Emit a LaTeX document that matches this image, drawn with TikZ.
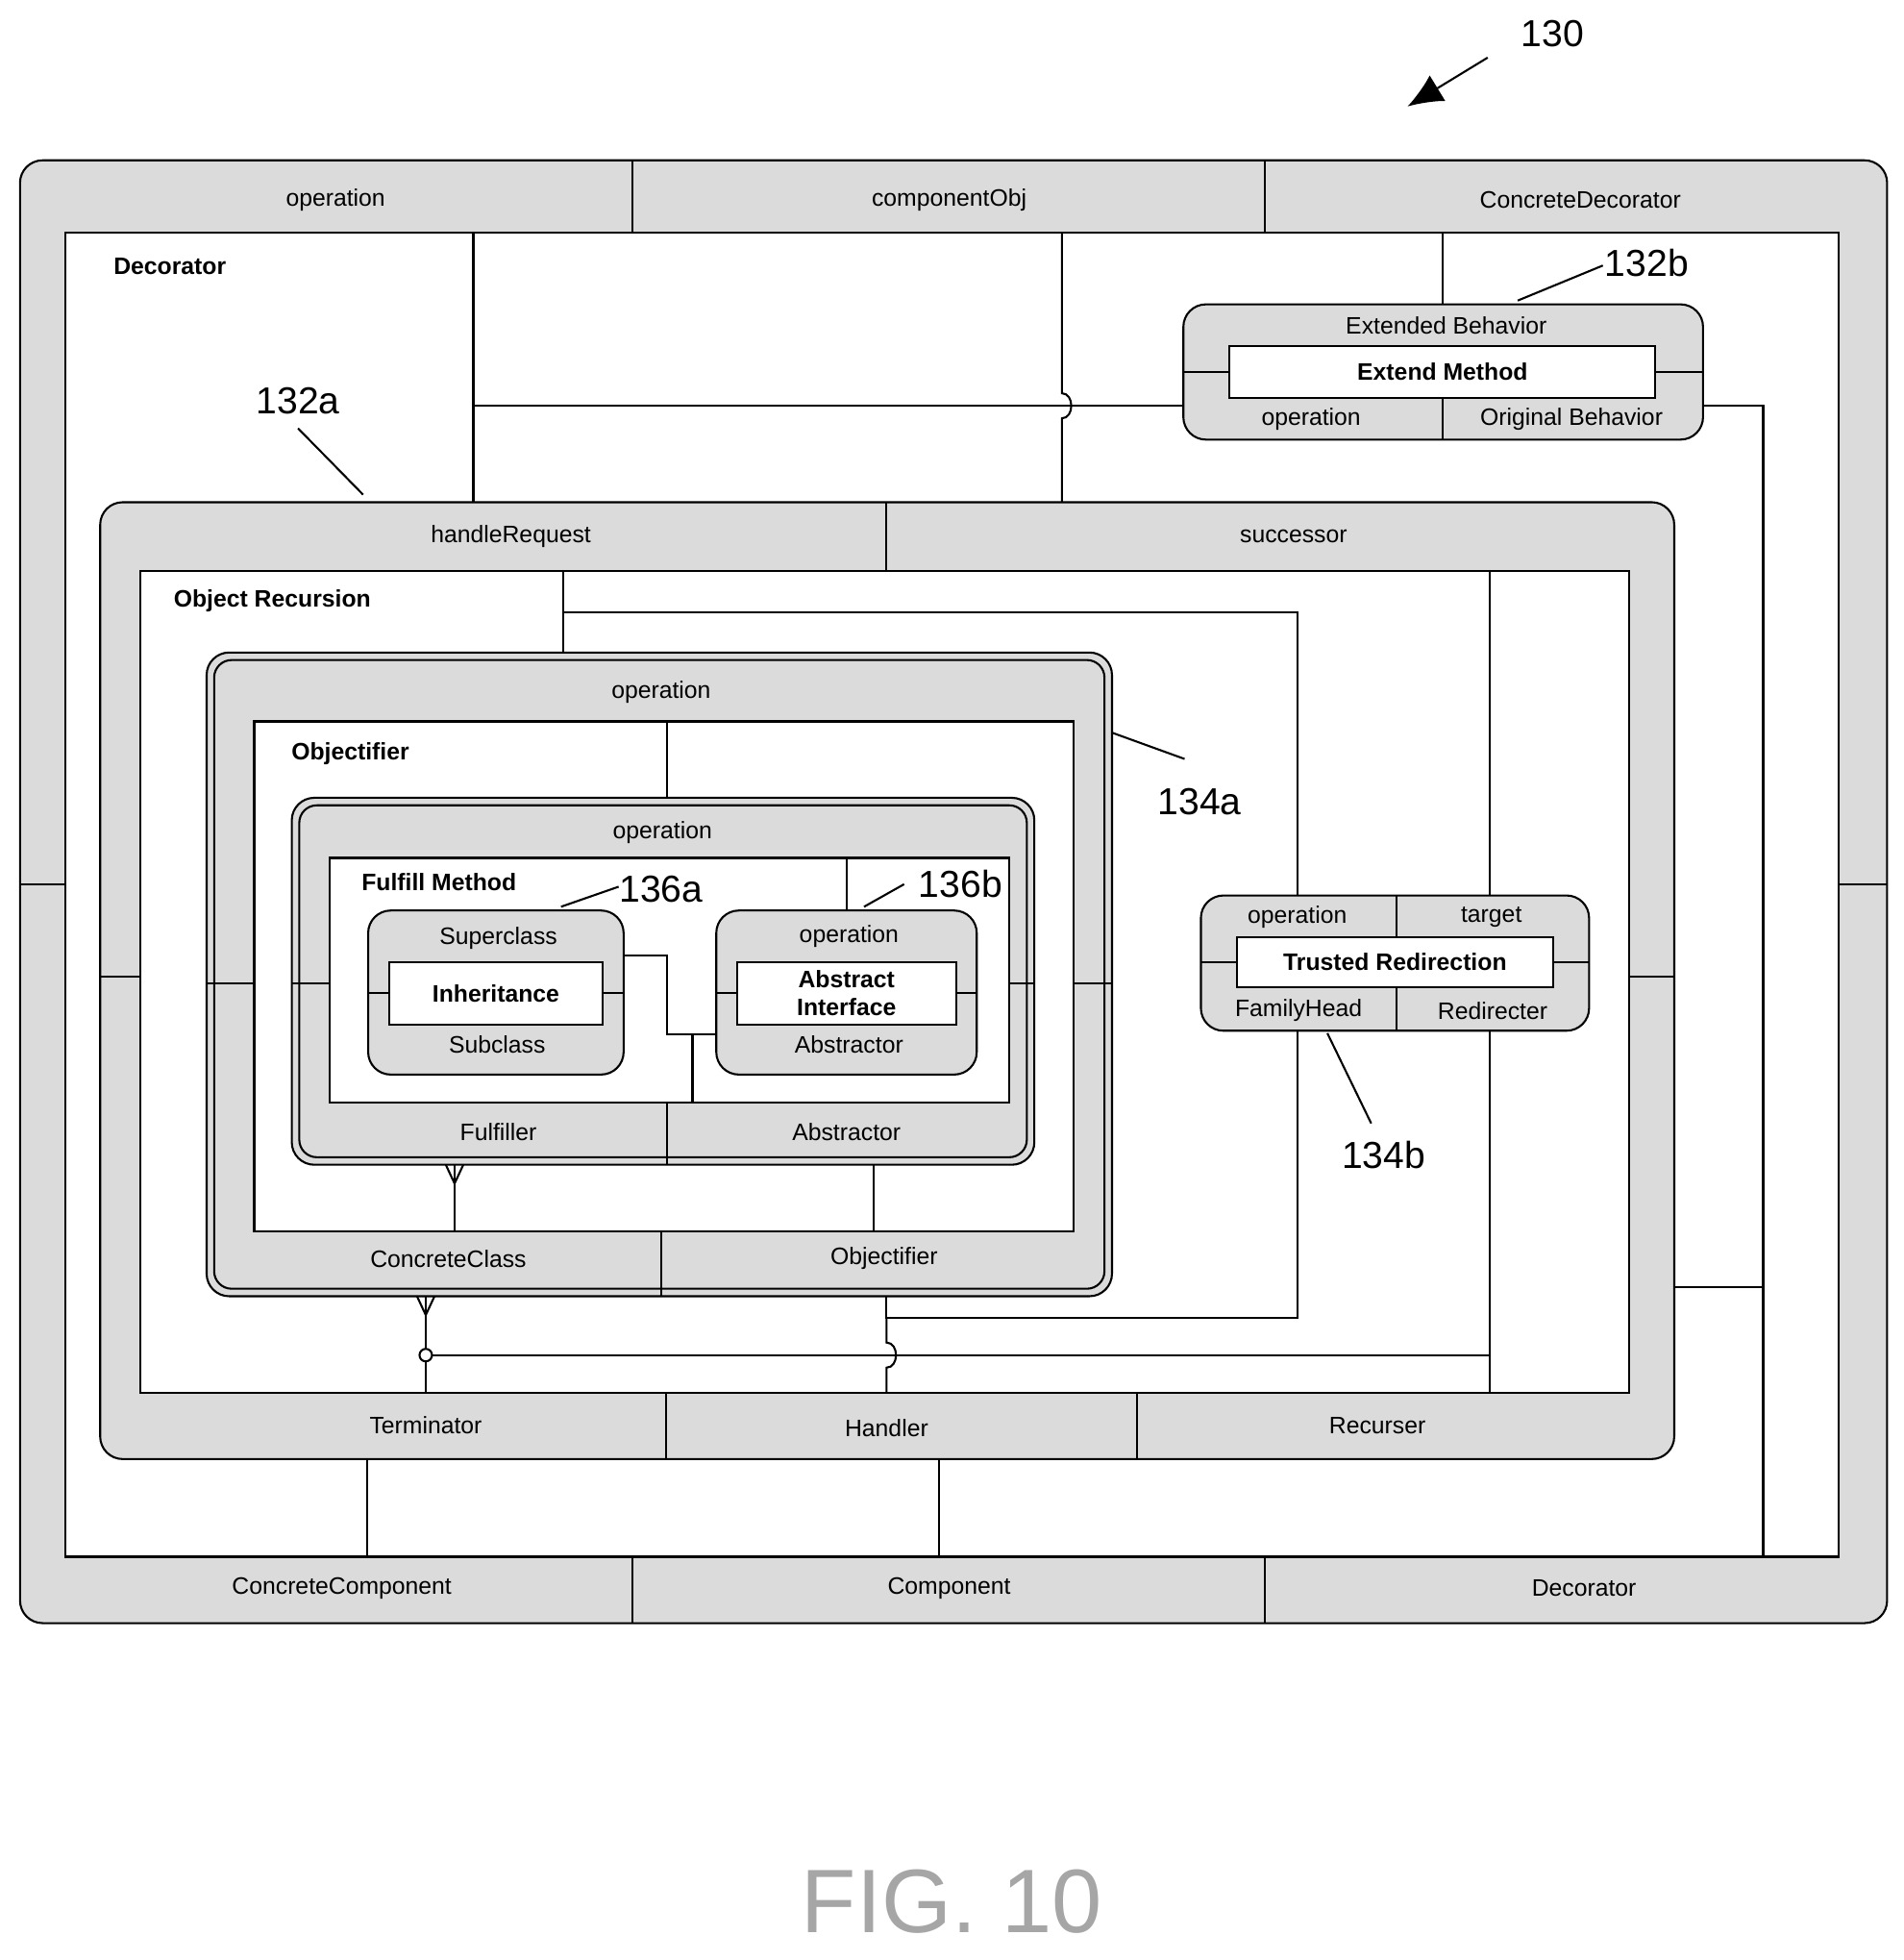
\documentclass[tikz,border=0pt]{standalone}
\usepackage{fontspec}
\usetikzlibrary{arrows.meta}
\setmainfont{Liberation Sans}
\begin{document}
\begin{tikzpicture}[x=0.5pt,y=-0.5pt,line width=0.8pt,
  band/.style={draw,fill=gray!28,rounded corners=9pt},
  wbox/.style={draw,fill=white},
  lab/.style={font=\fontsize{9.5}{11}\selectfont,inner sep=0pt},
  blab/.style={font=\fontsize{9.5}{11}\selectfont\bfseries,inner sep=0pt},
  ref/.style={font=\fontsize{15}{17}\selectfont,inner sep=0pt}]
\useasboundingbox (0,0) rectangle (1520,1565);
% Outer Decorator
\draw[band] (16,128) rectangle (1507,1296);
\draw[wbox] (52,186) rectangle (1468,1243);
\foreach \x in {505,1010}{\draw (\x,128)--(\x,186); \draw (\x,1243)--(\x,1296);}
\draw (16,706)--(52,706); \draw (1468,706)--(1507,706);
\node[lab] at (268,160) {operation};
\node[lab] at (758,160) {componentObj};
\node[lab] at (1262,160) {ConcreteDecorator};
\node[lab] at (273,1268) {ConcreteComponent};
\node[lab] at (758,1268) {Component};
\node[lab] at (1265,1268) {Decorator};
\node[blab,anchor=west] at (90,213) {Decorator};
% Decorator inner connectors
\draw (378,186)--(378,401);
\draw (848,186)--(848,314) .. controls (858,314) and (858,334) .. (848,334) -- (848,401);
\draw (378,324)--(945,324);
\draw (1152,186)--(1152,243);
\draw (1360,324)--(1408,324)--(1408,1243);
\draw (1337,1028)--(1408,1028);
\draw (293,1165)--(293,1243);
\draw (750,1165)--(750,1243);
% Extended behavior
\draw[band] (945,243) rectangle (1360,351);
\draw[wbox] (982,276) rectangle (1322,318);
\draw (1152,318)--(1152,351);
\draw (945,297)--(982,297); \draw (1322,297)--(1360,297);
\node[lab] at (1155,260) {Extended Behavior};
\node[blab] at (1152,297) {Extend Method};
\node[lab] at (1047,335) {operation};
\node[lab] at (1255,335) {Original Behavior};
\node[ref] (r132b) at (1315,210) {132b};
\draw (1212,240)--(1280,212);
\node[ref] (r132a) at (238,320) {132a};
\draw (238,342)--(290,395);
% Object Recursion
\draw[band] (80,401) rectangle (1337,1165);
\draw[wbox] (112,456) rectangle (1301,1112);
\draw (708,401)--(708,456);
\draw (532,1112)--(532,1165); \draw (908,1112)--(908,1165);
\draw (80,780)--(112,780); \draw (1301,780)--(1337,780);
\node[lab] at (408,428) {handleRequest};
\node[lab] at (1033,428) {successor};
\node[lab] at (340,1138) {Terminator};
\node[lab] at (708,1140) {Handler};
\node[lab] at (1100,1138) {Recurser};
\node[blab,anchor=west] at (138,480) {Object Recursion};
\draw (450,456)--(450,521);
\draw (450,489)--(1036,489)--(1036,715);
\draw (1190,456)--(1190,1112);
\draw (708,1035)--(708,1052)--(1036,1052)--(1036,823);
\draw (340,1082)--(1190,1082);
\draw (708,1052)--(708,1072) .. controls (718,1072) and (718,1092) .. (708,1092) -- (708,1112);
\draw (340,1035)--(340,1112);
\draw[fill=white] (340,1082) circle (5);
\draw (333,1035)--(340,1050)--(347,1035);
% Trusted redirection
\draw[band] (959,715) rectangle (1269,823);
\draw[wbox] (988,748) rectangle (1240,788);
\draw (1115,715)--(1115,748); \draw (1115,788)--(1115,823);
\draw (959,768)--(988,768); \draw (1240,768)--(1269,768);
\node[lab] at (1036,732) {operation};
\node[lab] at (1191,732) {target};
\node[blab] at (1114,768) {Trusted Redirection};
\node[lab] at (1037,807) {FamilyHead};
\node[lab] at (1192,807) {Redirecter};
\node[ref] at (1105,922) {134b};
\draw (1060,825)--(1095,897);
% Objectifier box
\draw[band] (165,521) rectangle (888,1035);
\draw[rounded corners=7pt] (171,527) rectangle (882,1029);
\draw[wbox] (203,576) rectangle (857,983);
\draw (528,983)--(528,1035);
\draw (165,785)--(203,785); \draw (857,785)--(888,785);
\node[lab] at (528,553) {operation};
\node[lab] at (358,1005) {ConcreteClass};
\node[lab] at (706,1005) {Objectifier};
\node[blab,anchor=west] at (232,602) {Objectifier};
\node[ref] at (958,640) {134a};
\draw (888,585)--(946,606);
\draw (533,576)--(533,637);
\draw (363,930)--(363,983);
\draw (356,930)--(363,945)--(370,930);
\draw (698,930)--(698,983);
% Fulfill box
\draw[band] (233,637) rectangle (826,930);
\draw[rounded corners=7pt] (239,643) rectangle (820,924);
\draw[wbox] (263,685) rectangle (806,880);
\draw (533,880)--(533,930);
\draw (233,785)--(263,785); \draw (806,785)--(826,785);
\node[lab] at (529,665) {operation};
\node[lab] at (398,904) {Fulfiller};
\node[lab] at (676,904) {Abstractor};
\node[blab,anchor=west] at (288,704) {Fulfill Method};
\draw (676,685)--(676,727);
\draw (498,763)--(533,763)--(533,826)--(572,826);
\draw (553,826)--(553,880);
% Inheritance
\draw[band] (294,727) rectangle (498,858);
\draw[wbox] (311,768) rectangle (481,818);
\draw (294,793)--(311,793); \draw (481,793)--(498,793);
\node[lab] at (398,749) {Superclass};
\node[blab] at (396,793) {Inheritance};
\node[lab] at (397,834) {Subclass};
\node[ref] at (528,710) {136a};
\draw (448,724)--(494,708);
% Abstract
\draw[band] (572,727) rectangle (780,858);
\draw[wbox] (589,768) rectangle (764,818);
\draw (572,793)--(589,793); \draw (764,793)--(780,793);
\node[lab] at (678,748) {operation};
\node[blab,align=center] at (676,793) {Abstract\\Interface};
\node[lab] at (678,834) {Abstractor};
\node[ref] at (767,706) {136b};
\draw (690,724)--(722,706);
% 130
\node[ref] at (1240,27) {130};
\draw[-{Latex[length=14pt,width=12pt]}] (1188,46)--(1124,85);
\node[font=\fontsize{36}{40}\selectfont,text=gray!70] at (760,1518) {FIG. 10};
\end{tikzpicture}
\end{document}
